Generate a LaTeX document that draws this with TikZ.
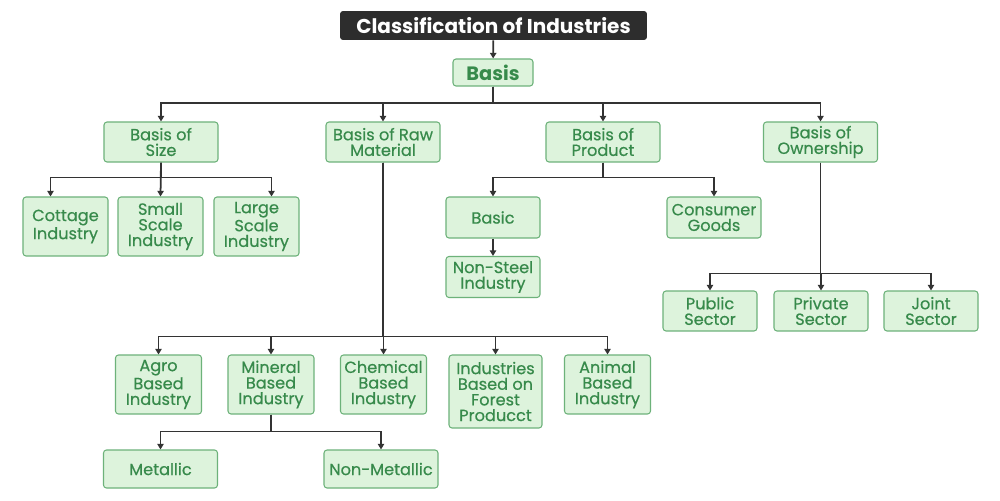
\documentclass[tikz,border=0pt]{standalone}
\usepackage{fontspec}
\setmainfont{Poppins}
\newfontfamily\boxfont{Poppins}[FakeBold=0.5]
\usetikzlibrary{arrows.meta,calc}
\definecolor{boxfill}{HTML}{DDF3DC}
\definecolor{boxline}{HTML}{6DB27A}
\definecolor{boxtext}{HTML}{378A4B}
\definecolor{titlefill}{HTML}{2D2D2D}
\definecolor{wire}{HTML}{333333}
\begin{document}
\begin{tikzpicture}[x=0.02cm, y=-0.02cm,
  box/.style={draw=boxline, fill=boxfill, line width=0.6pt, rounded corners=1.7pt,
    text=boxtext, align=center, inner sep=1pt, font=\boxfont\fontsize{9.2}{8.9}\selectfont},
  wide/.style={box, minimum width=2.28cm, minimum height=0.8cm},
  leaf/.style={box, minimum width=1.7cm, minimum height=1.18cm},
  mid/.style={box, minimum width=1.88cm, minimum height=0.82cm},
  link/.style={draw=wire, line width=1pt, -{Triangle[length=3.2pt,width=3.6pt]}}]
\useasboundingbox (0,0) rectangle (1000,500);
\fill[white] (0,0) rectangle (1000,500);
\node[fill=titlefill, rounded corners=1.7pt, text=white, minimum width=6.14cm, minimum height=0.58cm,
  inner sep=1pt, font=\fontsize{11.4}{12}\selectfont\bfseries] (title) at (493.5,25.5) {Classification of Industries};
\node[box, minimum width=1.6cm, minimum height=0.54cm, font=\fontsize{11}{12}\selectfont\bfseries] (basis) at (493,72.5) {Basis};
\node[wide] (size) at (161,142) {Basis of\\Size};
\node[wide] (raw) at (383,142) {Basis of Raw\\Material};
\node[wide] (product) at (603,142) {Basis of\\Product};
\node[wide] (owner) at (820.5,142) {Basis of\\Ownership};
\node[leaf] (cottage) at (65.5,226.5) {Cottage\\Industry};
\node[leaf] (small) at (160.5,226.5) {Small\\Scale\\Industry};
\node[leaf] (large) at (256.5,226.5) {Large\\Scale\\Industry};
\node[mid] (basic) at (493,217.5) {Basic};
\node[mid] (consumer) at (714,217.5) {Consumer\\Goods};
\node[mid] (nonsteel) at (493,277) {Non-Steel\\Industry};
\node[mid, minimum height=0.8cm] (public) at (710,311) {Public\\Sector};
\node[mid, minimum height=0.8cm] (private) at (821,311) {Private\\Sector};
\node[mid, minimum height=0.8cm] (joint) at (931,311) {Joint\\Sector};
\node[leaf, minimum width=1.72cm] (agro) at (158.5,384.5) {Agro\\Based\\Industry};
\node[leaf, minimum width=1.72cm] (mineral) at (271,384.5) {Mineral\\Based\\Industry};
\node[leaf, minimum width=1.72cm] (chemical) at (383.5,384.5) {Chemical\\Based\\Industry};
\node[leaf, minimum width=1.86cm, minimum height=1.46cm] (forest) at (495.5,391.5) {Industries\\Based on\\Forest\\Producct};
\node[leaf, minimum width=1.72cm] (animal) at (607.5,384.5) {Animal\\Based\\Industry};
\node[wide, minimum height=0.76cm] (metallic) at (160.5,469) {Metallic};
\node[wide, minimum height=0.76cm] (nonmetal) at (381,469) {Non-Metallic};
\draw[link] (title) -- (basis);
\foreach \n in {size,raw,product,owner}
  \draw[link] (basis.south) -- ++(0,16.5) -| (\n.north);
\draw[link] (size.south) -- ++(0,15) -| ($(cottage.north)+(-15,0)$);
\draw[link] (size.south) -- (small.north);
\draw[link] (size.south) -- ++(0,15) -| ($(large.north)+(15,0)$);
\foreach \n in {agro,mineral,chemical,forest,animal}
  \draw[link] (raw.south) -- ++(0,174) -| (\n.north);
\foreach \n in {basic,consumer}
  \draw[link] (product.south) -- ++(0,15) -| (\n.north);
\draw[link] (basic) -- (nonsteel);
\foreach \n in {public,private,joint}
  \draw[link] (owner.south) -- ++(0,111) -| (\n.north);
\foreach \n in {metallic,nonmetal}
  \draw[link] (mineral.south) -- ++(0,17) -| (\n.north);
\end{tikzpicture}
\end{document}
